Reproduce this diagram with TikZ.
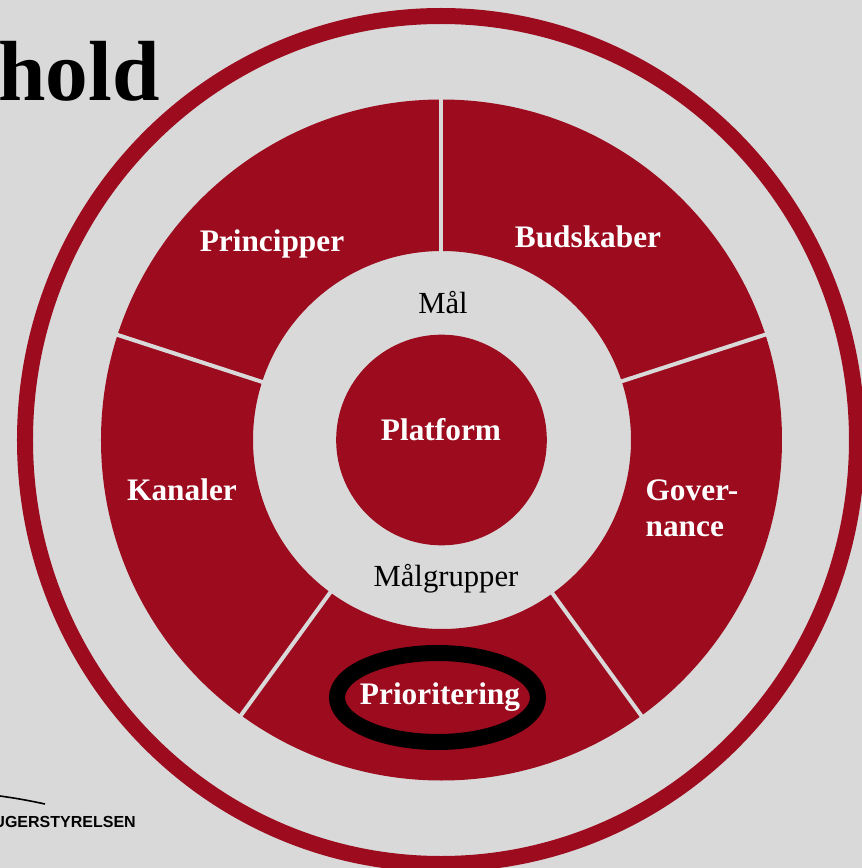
\documentclass[tikz,border=0pt]{standalone}
\usepackage{fontspec}
\setmainfont{Liberation Serif}
\setsansfont{Liberation Sans}
\usetikzlibrary{positioning,shapes}
\definecolor{wheelred}{HTML}{9C0B1E}
\definecolor{panelgray}{HTML}{D9D9D9}
\tikzset{
  segment/.style={font=\fontsize{23.5}{27}\selectfont\bfseries,text=white,align=left,inner sep=0pt},
  ringtext/.style={font=\fontsize{23}{27}\selectfont,text=black,inner sep=0pt},
}

\begin{document}
\begin{tikzpicture}[x=0.75pt,y=0.75pt]
  \useasboundingbox[fill=panelgray] (-441,-428) rectangle (421,440);

  % outer ring and wheel
  \draw[wheelred,line width=12pt] (0,0) ellipse (416 and 424);
  \fill[wheelred,even odd rule] (0.5,0) circle (340.5) (1,0) circle (189);
  \foreach \a in {90,18,-54,-126,162}
    \draw[panelgray,line width=3pt] (\a:186) -- (\a:343);

  \node[circle,fill=wheelred,minimum size=158pt,inner sep=0pt] (core) at (0.5,0) {};

  \node[segment] (platform) at (0,10) {Platform};
  \node[ringtext] (maal) at (2,137) {Mål};
  \node[ringtext] (maalgrupper) at (5,-139) {Målgrupper};
  \node[segment] (principper) at (-169,196) {Principper};
  \node[segment] (budskaber) at (147,203) {Budskaber};
  \node[segment] (kanaler) at (-259,-50) {Kanaler};
  \node[segment] (governance) at (251,-68) {Gover-\\nance};
  \node[segment] (prioritering) at (-1,-257) {Prioritering};
  \node[draw=black,line width=12pt,ellipse,minimum width=150.75pt,minimum height=66.75pt,inner sep=0pt] (focus) at (-3.5,-257.5) {};

  % clipped title and logo
  \node[font=\fontsize{64}{70}\selectfont\bfseries,anchor=base east,inner sep=0pt] (title) at (-281,339) {hold};
  \coordinate (logostart) at (-441,-356);
  \coordinate (logoend) at (-396,-364);
  \draw[line width=1.2pt] (logostart) to[bend left=2] (logoend);
  \node[font=\sffamily\bfseries\fontsize{12}{14}\selectfont,anchor=base east,inner sep=0pt] (logo) at (-305,-387) {UGERSTYRELSEN};
\end{tikzpicture}
\end{document}
